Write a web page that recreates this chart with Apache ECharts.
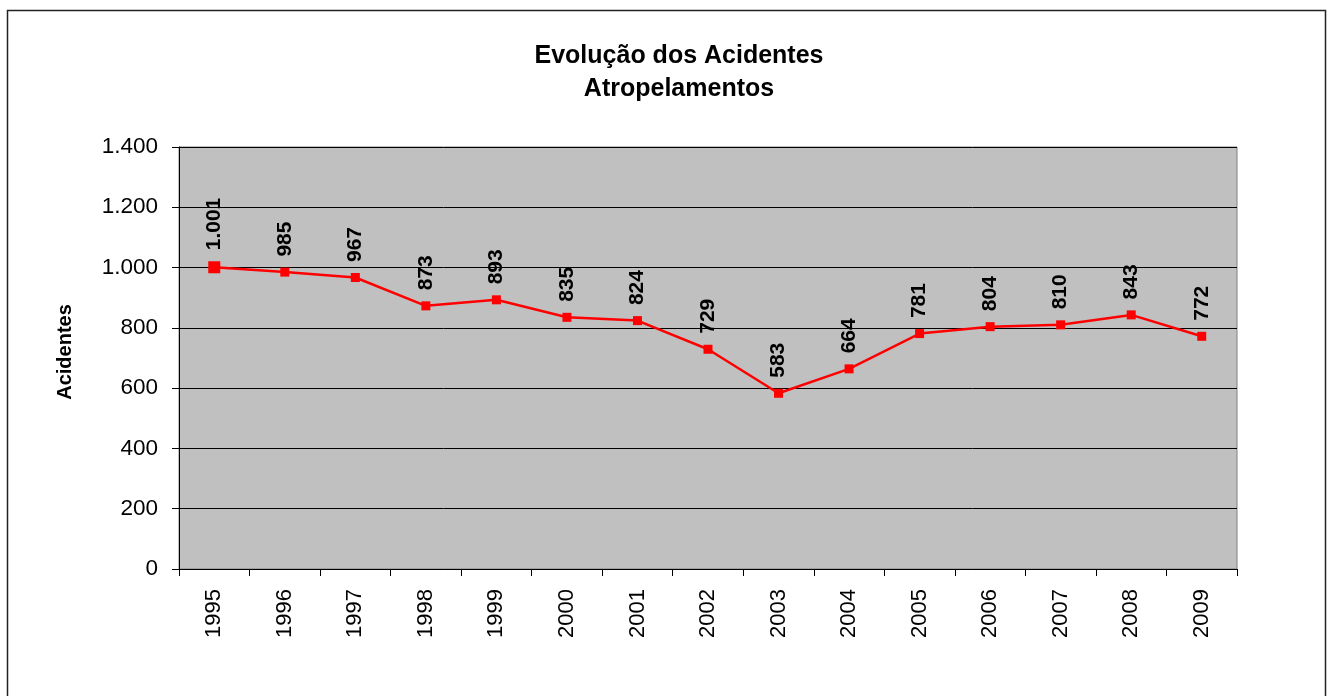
<!DOCTYPE html>
<html>
<head>
<meta charset="utf-8">
<script src="https://cdn.jsdelivr.net/npm/echarts@6/dist/echarts.min.js"></script>
<style>
  html, body { margin: 0; padding: 0; background: #fff; }
  #chart { width: 1329px; height: 696px; }
</style>
</head>
<body>
<div id="chart"></div>
<script>
const years = ['1995', '1996', '1997', '1998', '1999', '2000', '2001', '2002',
  '2003', '2004', '2005', '2006', '2007', '2008', '2009'];
const acidentes = [1001, 985, 967, 873, 893, 835, 824, 729, 583, 664, 781, 804, 810, 843, 772];

// 1.400 style numbers (Portuguese thousands separator)
function fmt(v) {
  return String(v).replace(/\B(?=(\d{3})+(?!\d))/g, '.');
}

const chart = echarts.init(document.getElementById('chart'));

chart.setOption({
  animation: false,
  textStyle: { fontFamily: 'Liberation Sans, Arial, sans-serif' },
  title: {
    text: 'Evolução dos Acidentes\nAtropelamentos',
    left: 674,
    textAlign: 'center',
    top: 35,
    textStyle: { fontSize: 25, fontWeight: 'bold', color: '#000', lineHeight: 33 }
  },
  graphic: [{
    type: 'rect',
    shape: { x: 7.5, y: 10.5, width: 1318, height: 700 },
    style: { fill: 'none', stroke: '#222', lineWidth: 1.5 },
    silent: true
  }],
  grid: {
    left: 179,
    right: 92,
    top: 147,
    bottom: 127,
    show: true,
    backgroundColor: '#C0C0C0',
    borderColor: '#808080',
    borderWidth: 1
  },
  xAxis: {
    type: 'category',
    data: years,
    boundaryGap: true,
    axisLine: { lineStyle: { color: '#000', width: 1 } },
    axisTick: { show: true, length: 7, interval: 0, lineStyle: { color: '#000' } },
    axisLabel: { rotate: 90, fontSize: 22, color: '#000', margin: 20, interval: 0 }
  },
  yAxis: {
    type: 'value',
    min: 0,
    max: 1400,
    interval: 200,
    name: 'Acidentes',
    nameLocation: 'middle',
    nameGap: 104,
    nameRotate: 90,
    nameTextStyle: { fontSize: 20, fontWeight: 'bold', color: '#000', padding: [0, 0, 0, 12] },
    axisLine: { show: true, lineStyle: { color: '#000' } },
    axisTick: { show: true, length: 7, lineStyle: { color: '#000' } },
    axisLabel: { fontSize: 22.5, color: '#000', margin: 21, formatter: fmt },
    splitLine: { show: true, lineStyle: { color: '#000', width: 1 } }
  },
  series: [{
    type: 'line',
    data: acidentes,
    symbol: 'rect',
    symbolSize: (v, p) => (p.dataIndex === 0 ? 12 : 9),
    itemStyle: { color: '#FF0000' },
    lineStyle: { color: '#FF0000', width: 2.5 },
    label: {
      show: true,
      position: 'top',
      distance: 11,
      rotate: 90,
      align: 'left',
      verticalAlign: 'middle',
      fontSize: 21,
      fontWeight: 'bold',
      color: '#000',
      formatter: p => fmt(p.value)
    }
  }]
});
</script>
</body>
</html>
